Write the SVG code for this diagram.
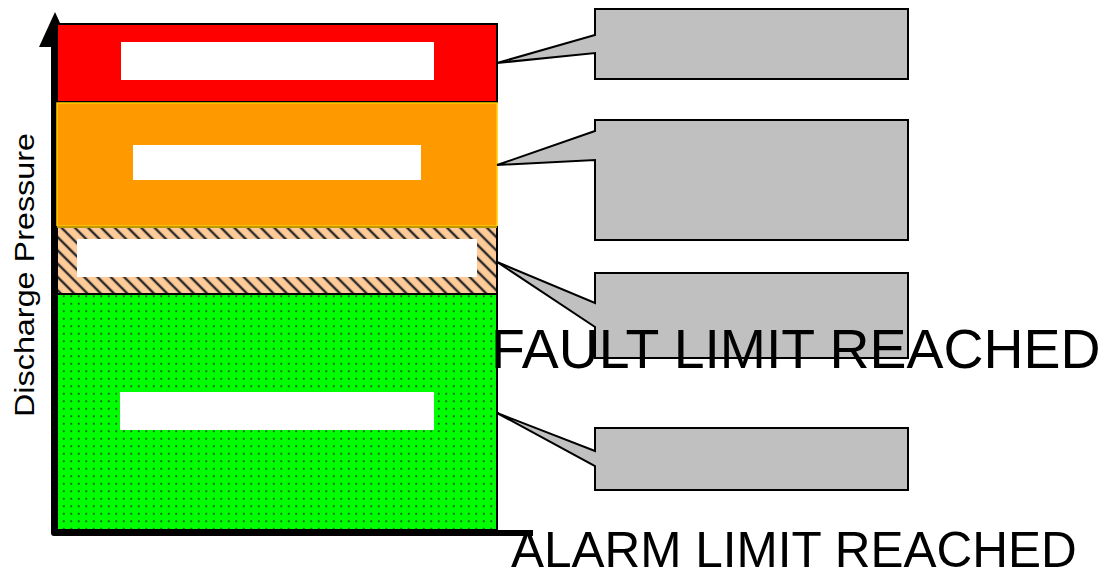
<svg xmlns="http://www.w3.org/2000/svg" width="1104" height="573" viewBox="0 0 1104 573">
  <style>
    .band { stroke: #000; stroke-width: 2; }
    .label { fill: #fff; }
    .callout { fill: #c0c0c0; stroke: #000; stroke-width: 2; stroke-linejoin: miter; }
    .txt { font-family: "Liberation Sans", Arial, sans-serif; fill: #000; }
  </style>
  <defs>
    <pattern id="hatch" patternUnits="userSpaceOnUse" width="9.4" height="9.4" patternTransform="rotate(-45)">
      <rect width="9.4" height="9.4" fill="#ffcc99"/>
      <line x1="4.7" y1="-1" x2="4.7" y2="10.4" stroke="#2a2a2a" stroke-width="2.4"/>
    </pattern>
    <pattern id="dots" patternUnits="userSpaceOnUse" width="7.5" height="7.5">
      <rect width="7.5" height="7.5" fill="#00ff00"/>
      <circle cx="3.75" cy="3.75" r="1" fill="#1f3f1f"/>
    </pattern>
  </defs>

  <!-- axes -->
  <g id="axes">
    <polygon points="55,12 39,47 71,47" fill="#000"/>
    <polyline points="54,40 54,533 533,533" fill="none" stroke="#000" stroke-width="6" stroke-linejoin="round" stroke-linecap="butt"/>
  </g>

  <!-- pressure bands -->
  <g id="band-fault">
    <rect class="band" x="57" y="24" width="440" height="78" fill="#ff0000"/>
    <rect class="label" x="121" y="42" width="313" height="38"/>
  </g>
  <g id="band-alarm">
    <rect x="57" y="103" width="440" height="123" fill="#ff9900" stroke="#ffcc00" stroke-width="1.5"/>
    <rect class="label" x="133" y="145" width="288" height="35"/>
  </g>
  <g id="band-warning">
    <rect x="57" y="227" width="440" height="67" fill="url(#hatch)" stroke="#000" stroke-width="2"/>
    <line x1="57" y1="227" x2="497" y2="227" stroke="#ffcc00" stroke-width="1.5"/>
    <rect class="label" x="77" y="239" width="400" height="38"/>
  </g>
  <g id="band-normal">
    <rect class="band" x="57" y="294" width="440" height="236" fill="url(#dots)"/>
    <rect class="label" x="120" y="392" width="314" height="38"/>
  </g>

  <!-- callouts -->
  <g id="connectors">
    <polygon id="callout-fault" class="callout" points="497,63 595,35 595,9 908,9 908,79 595,79 595,53"/>
    <polygon id="callout-alarm" class="callout" points="497,165 595,131 595,120 908,120 908,240 595,240 595,160"/>
    <polygon id="callout-warning" class="callout" points="497,262 595,303 595,273 908,273 908,358 595,358 595,327"/>
    <polygon id="callout-normal" class="callout" points="497,413 595,451 595,428 908,428 908,490 595,490 595,466"/>
  </g>

  <!-- texts -->
  <g id="labels">
    <text class="txt" transform="translate(34,275) rotate(-90)" font-size="28.5" text-anchor="middle" textLength="284" lengthAdjust="spacingAndGlyphs">Discharge Pressure</text>
    <text class="txt" x="491" y="368" font-size="55.4">FAULT LIMIT REACHED</text>
    <text class="txt" x="511" y="567" font-size="49.5">ALARM LIMIT REACHED</text>
  </g>
</svg>
